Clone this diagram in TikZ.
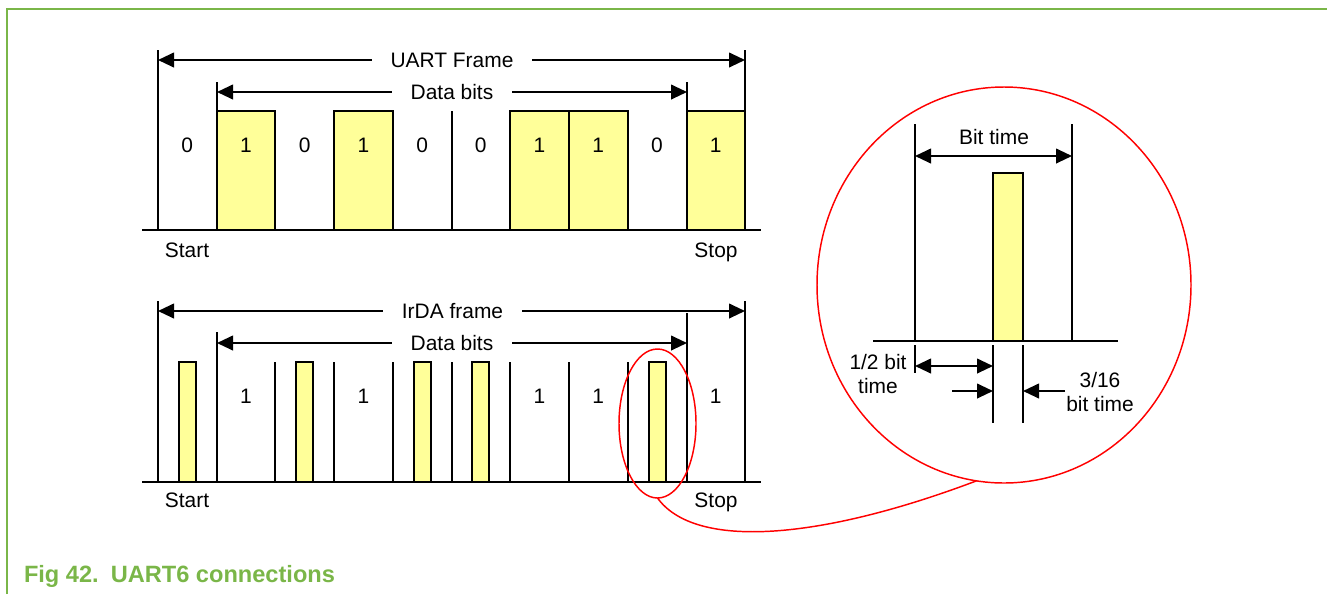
\documentclass[tikz,border=0pt]{standalone}
\usepackage{fontspec}
\setmainfont{Liberation Sans}
\usetikzlibrary{arrows.meta,shapes.geometric}
\definecolor{NXPGreen}{HTML}{7AB648}
\definecolor{BitYellow}{HTML}{FFFF99}
\definecolor{LensRed}{HTML}{FF0000}

\begin{document}
\begin{tikzpicture}[x=0.75pt,y=-0.75pt,>={Triangle[length=12pt,width=11pt]},line width=1.5pt]
  \tikzstyle{bitbox}=[draw=black,fill=BitYellow]
  \tikzstyle{lbl}=[font=\fontsize{15.7}{18}\selectfont,inner sep=0pt]
  \tikzstyle{spanlbl}=[lbl,inner xsep=13.5pt]
  \tikzstyle{endlbl}=[lbl,anchor=base]
  \tikzstyle{lens}=[draw=LensRed,line width=1.1pt,ellipse,inner sep=0pt,outer sep=0pt]
  \useasboundingbox (0,0) rectangle (1327,594);
  % figure frame
  \draw[NXPGreen,line width=1.5pt] (7,594) -- (7,9) -- (1327,9);

  % UART frame
  \draw (142,230) -- (761,230);
  \foreach \xa/\xb in {217/275,334/393,510/569,569/628,687/745}
    \draw[bitbox] (\xa,230) rectangle (\xb,111);
  \draw (158,230) -- (158,50);
  \draw (217,111) -- (217,82);
  \draw (452,230) -- (452,111);
  \draw (687,111) -- (687,82);
  \draw (745,111) -- (745,50);
  \foreach \b [count=\i from 0] in {0,1,0,1,0,0,1,1,0,1}
    \node[lbl] (u\i) at ({187.3+58.7*\i},145) {\b};
  \node[spanlbl] (uframe) at (452,60) {UART Frame};
  \coordinate (uframeL) at (158,60);
  \coordinate (uframeR) at (745,60);
  \draw[->] (uframe) -- (uframeL);
  \draw[->] (uframe) -- (uframeR);
  \node[spanlbl] (udata) at (452,92) {Data bits};
  \coordinate (udataL) at (217,92);
  \coordinate (udataR) at (687,92);
  \draw[->] (udata) -- (udataL);
  \draw[->] (udata) -- (udataR);
  \node[endlbl] (ustart) at (187,257.5) {Start};
  \node[endlbl] (ustop) at (716,257.5) {Stop};

  % IrDA frame
  \draw (142,482) -- (761,482);
  \foreach \xa in {179,296,414,472,649}
    \draw[bitbox] (\xa,482) rectangle ({\xa+17},362);
  \foreach \xa in {275,334,393,452,510,569,628}
    \draw (\xa,482) -- (\xa,362);
  \draw (158,482) -- (158,301);
  \draw (217,482) -- (217,332);
  \draw (687,482) -- (687,313);
  \draw (745,482) -- (745,301);
  \foreach \i in {1,3,6,7,9}
    \node[lbl] (i\i) at ({187.3+58.7*\i},396) {1};
  \node[spanlbl] (iframe) at (452.5,311) {IrDA frame};
  \coordinate (iframeL) at (158,311);
  \coordinate (iframeR) at (745,311);
  \draw[->] (iframe) -- (iframeL);
  \draw[->] (iframe) -- (iframeR);
  \node[spanlbl] (idata) at (452,343) {Data bits};
  \coordinate (idataL) at (217,343);
  \coordinate (idataR) at (687,343);
  \draw[->] (idata) -- (idataL);
  \draw[->] (idata) -- (idataR);
  \node[endlbl] (istart) at (187,507.5) {Start};
  \node[endlbl] (istop) at (716,507.5) {Stop};

  % magnified pulse
  \node[lens,minimum width=57.75pt,minimum height=111.75pt] (lens) at (657.5,423.5) {};
  \node[lens,minimum width=280.5pt,minimum height=297pt] (zoom) at (1004,285) {};
  \draw[LensRed,line width=1.1pt] (lens.south) .. controls (695,550) and (820,540) .. (zoom.262);
  \draw (873,341) -- (1118,341);
  \draw (915,124) -- (915,341);
  \draw (1072,124) -- (1072,341);
  \draw[bitbox] (993,341) rectangle (1023,173);
  \draw (915,345) -- (915,373);
  \draw (993,345) -- (993,423);
  \draw (1023,345) -- (1023,423);
  \node[lbl] (bittime) at (994,137) {Bit time};
  \coordinate (btL) at (915,156);
  \coordinate (btR) at (1072,156);
  \draw[<->] (btL) -- (btR);
  \coordinate (halfL) at (915,366);
  \coordinate (halfR) at (993,366);
  \draw[<->] (halfL) -- (halfR);
  \coordinate (pulseL) at (952,391);
  \coordinate (pulseLe) at (993,391);
  \coordinate (pulseR) at (1065,391);
  \coordinate (pulseRe) at (1023,391);
  \draw[->] (pulseL) -- (pulseLe);
  \draw[->] (pulseR) -- (pulseRe);
  \node[lbl,align=center] (half) at (878,374) {1/2 bit\\time};
  \node[lbl,align=center] (width) at (1100,392) {3/16\\bit time};

  % caption
  \node[anchor=base west,inner sep=0pt,text=NXPGreen,
    font=\fontsize{17.7}{20}\selectfont\bfseries] (caption) at (23,582)
    {Fig 42.\hspace{9pt}UART6 connections};
\end{tikzpicture}
\end{document}
